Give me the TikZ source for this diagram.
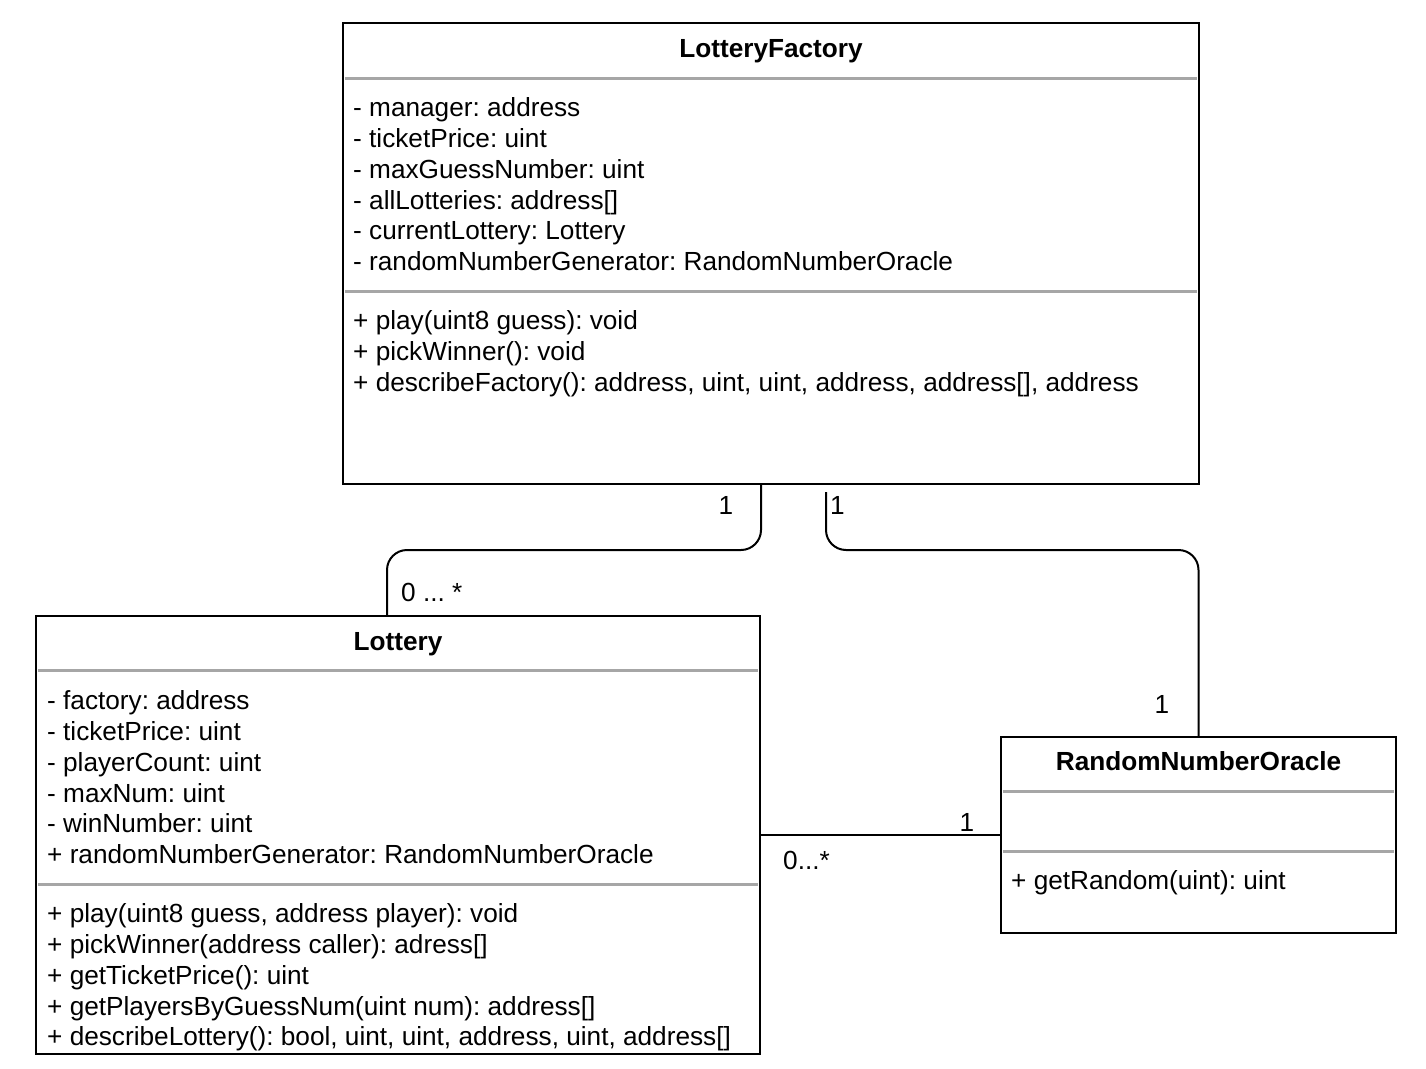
\documentclass[tikz,border=0pt]{standalone}
\usepackage{fontspec}
\setmainfont{Liberation Sans}
\frenchspacing
\newcommand\umlfont{\fontsize{26.2}{30.8}\selectfont}
\tikzset{
  umlbox/.style={draw, line width=2pt, inner sep=0pt},
  umltitle/.style={font=\bfseries\umlfont, anchor=base, inner sep=0pt},
  umltext/.style={font=\umlfont, align=left, anchor=north west, inner sep=0pt},
  sepline/.style={line width=3pt, gray!70},
  assoc/.style={line width=2pt, rounded corners=20pt},
  mult/.style={font=\umlfont, anchor=base, inner sep=0pt}
}

\begin{document}
\begin{tikzpicture}[x=1pt,y=-1pt]
  \useasboundingbox (0,0) rectangle (1426,1068);
  % LotteryFactory
  \draw[sepline] (345,78) -- (1197,78);
  \draw[sepline] (345,291) -- (1197,291);
  \node[umlbox, minimum width=856pt, minimum height=461pt] (factory) at (771,253.5) {};
  \node[umltitle] (factorytitle) at (771,57) {LotteryFactory};
  \node[umltext] (factoryattr) at (353,94.9) {\strut- manager: address\\
    - ticketPrice: uint\\
    - maxGuessNumber: uint\\
    - allLotteries: address[]\\
    - currentLottery: Lottery\\
    - randomNumberGenerator: RandomNumberOracle};
  \node[umltext] (factoryops) at (353,307.9) {\strut+ play(uint8 guess): void\\
    + pickWinner(): void\\
    + describeFactory(): address, uint, uint, address, address[], address};
  % Lottery
  \draw[sepline] (38,670) -- (758,670);
  \draw[sepline] (38,884) -- (758,884);
  \node[umlbox, minimum width=724pt, minimum height=438pt] (lottery) at (398,835) {};
  \node[umltitle] (lotterytitle) at (398,650) {Lottery};
  \node[umltext] (lotteryattr) at (47,687.9) {\strut- factory: address\\
    - ticketPrice: uint\\
    - playerCount: uint\\
    - maxNum: uint\\
    - winNumber: uint\\
    + randomNumberGenerator: RandomNumberOracle};
  \node[umltext] (lotteryops) at (47,900.9) {\strut+ play(uint8 guess, address player): void\\
    + pickWinner(address caller): adress[]\\
    + getTicketPrice(): uint\\
    + getPlayersByGuessNum(uint num): address[]\\
    + describeLottery(): bool, uint, uint, address, uint, address[]};
  % RandomNumberOracle
  \draw[sepline] (1003,791) -- (1394,791);
  \draw[sepline] (1003,851) -- (1394,851);
  \node[umlbox, minimum width=395pt, minimum height=196pt] (oracle) at (1198.5,835) {};
  \node[umltitle] (oracletitle) at (1198.5,770) {RandomNumberOracle};
  \node[umltext] (oracleops) at (1011,867.9) {\strut+ getRandom(uint): uint};
  % associations
  \coordinate (fL) at (factory.south -| lottery.north east);
  \coordinate (lF) at ([xshift=-11pt]lottery.north);
  \coordinate (fR) at ([xshift=55pt,yshift=-7pt]factory.south);
  \draw[assoc] (fL) -- ++(0,65) -| (lF);
  \draw[assoc] (fR) -- ++(0,58) -| (oracle.north);
  \draw[assoc] (lottery.east) -- (oracle.west);
  % multiplicities
  \node[mult] (m1) at (726,514) {1};
  \node[mult, anchor=base west] (m2) at (401,601) {0 ... *};
  \node[mult, anchor=base west] (m3) at (830,514) {1};
  \node[mult] (m4) at (1162,713) {1};
  \node[mult] (m5) at (967,831) {1};
  \node[mult, anchor=base west] (m6) at (783,869) {0...*};
\end{tikzpicture}
\end{document}
